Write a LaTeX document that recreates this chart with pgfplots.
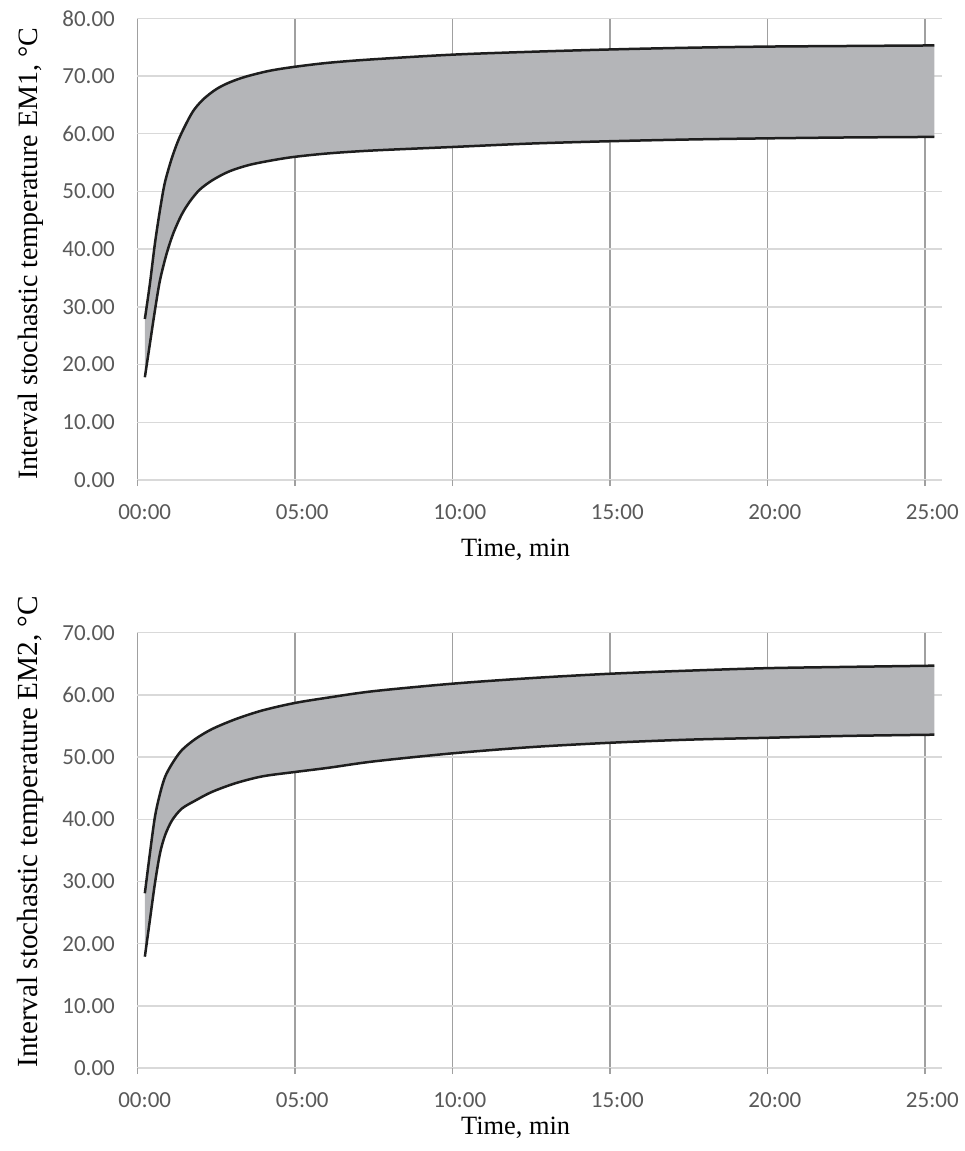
\documentclass[border=0pt]{standalone}
\usepackage{fontspec}
\setmainfont{Liberation Serif}
\newfontfamily\carlito{Carlito}
\usepackage{pgfplots}
\pgfplotsset{compat=1.18}
\usepackage{pgfplotstable}
\definecolor{bandgray}{RGB}{180,181,184}
\definecolor{vgrid}{RGB}{160,160,160}
\definecolor{hgrid}{RGB}{217,217,217}
\definecolor{ticktext}{RGB}{89,89,89}
\definecolor{curvecol}{RGB}{30,30,30}

\pgfplotstableread{
t v
0.24 27.9
0.40 34.0
0.56 41.0
0.72 46.8
0.87 51.4
1.08 55.5
1.29 58.7
1.51 61.3
1.77 63.9
2.08 65.9
2.50 67.7
2.93 68.9
3.45 69.9
4.19 70.9
5.00 71.6
6.08 72.3
7.50 72.9
10.0 73.7
12.5 74.2
15.0 74.6
17.5 74.9
20.0 75.1
22.5 75.2
25.3 75.3
}\emoneup

\pgfplotstableread{
t v
0.24 17.8
0.40 23.6
0.56 29.4
0.72 34.6
0.93 39.2
1.14 42.7
1.40 45.9
1.66 48.2
1.98 50.3
2.40 52.0
2.93 53.5
3.56 54.6
4.29 55.4
5.00 56.0
6.08 56.6
7.50 57.1
10.0 57.7
12.5 58.3
15.0 58.7
17.5 59.0
20.0 59.2
22.5 59.35
25.3 59.45
}\emonelo

\pgfplotstableread{
t v
0.24 28.1
0.40 34.5
0.56 40.4
0.72 44.1
0.88 46.8
1.10 48.9
1.41 51.1
1.84 52.9
2.37 54.5
3.12 56.1
3.97 57.5
5.00 58.7
6.10 59.6
7.50 60.6
10.0 61.8
12.5 62.7
15.0 63.4
17.5 63.9
20.0 64.3
22.5 64.5
25.3 64.7
}\emtwoup

\pgfplotstableread{
t v
0.24 17.9
0.40 23.8
0.56 29.7
0.72 34.5
0.88 37.4
1.10 39.8
1.41 41.7
1.84 43.0
2.37 44.4
3.12 45.8
3.97 46.9
5.00 47.6
6.10 48.3
7.50 49.3
10.0 50.6
12.5 51.6
15.0 52.3
17.5 52.8
20.0 53.1
22.5 53.4
25.3 53.6
}\emtwolo

% band outlines: upper curve forwards, lower curve backwards
\pgfplotstableread{
t v
0.24 27.9
0.40 34.0
0.56 41.0
0.72 46.8
0.87 51.4
1.08 55.5
1.29 58.7
1.51 61.3
1.77 63.9
2.08 65.9
2.50 67.7
2.93 68.9
3.45 69.9
4.19 70.9
5.00 71.6
6.08 72.3
7.50 72.9
10.0 73.7
12.5 74.2
15.0 74.6
17.5 74.9
20.0 75.1
22.5 75.2
25.3 75.3
25.3 59.45
22.5 59.35
20.0 59.2
17.5 59.0
15.0 58.7
12.5 58.3
10.0 57.7
7.50 57.1
6.08 56.6
5.00 56.0
4.29 55.4
3.56 54.6
2.93 53.5
2.40 52.0
1.98 50.3
1.66 48.2
1.40 45.9
1.14 42.7
0.93 39.2
0.72 34.6
0.56 29.4
0.40 23.6
0.24 17.8
}\emoneband

\pgfplotstableread{
t v
0.24 28.1
0.40 34.5
0.56 40.4
0.72 44.1
0.88 46.8
1.10 48.9
1.41 51.1
1.84 52.9
2.37 54.5
3.12 56.1
3.97 57.5
5.00 58.7
6.10 59.6
7.50 60.6
10.0 61.8
12.5 62.7
15.0 63.4
17.5 63.9
20.0 64.3
22.5 64.5
25.3 64.7
25.3 53.6
22.5 53.4
20.0 53.1
17.5 52.8
15.0 52.3
12.5 51.6
10.0 50.6
7.50 49.3
6.10 48.3
5.00 47.6
3.97 46.9
3.12 45.8
2.37 44.4
1.84 43.0
1.41 41.7
1.10 39.8
0.88 37.4
0.72 34.5
0.56 29.7
0.40 23.8
0.24 17.9
}\emtwoband

\pgfplotsset{
  emstyle/.style={
    scale only axis, width=402.5pt, xmin=0, xmax=25.55, ymin=0,
    xtick={0,5,10,15,20,25},
    xticklabels={00:00,05:00,10:00,15:00,20:00,25:00},
    axis line style={draw=none},
    xmajorgrids, ymajorgrids,
    x grid style={vgrid, line width=0.75pt},
    y grid style={hgrid, line width=0.75pt},
    tick pos=left, tick align=outside,
    xtick style={vgrid, line width=0.75pt},
    major tick length=3pt,
    ytick style={draw=none},
    ticklabel style={font=\carlito\fontsize{11.5}{14}\selectfont, text=ticktext},
    xticklabel style={xshift=3.7pt, yshift=-5.7pt},
    yticklabel style={xshift=-4.7pt},
    xlabel style={font=\fontsize{13.2}{16}\selectfont},
    anchor=south west,
  },
  curvestyle/.style={draw=curvecol, line width=1.25pt, smooth, tension=0.5, mark=none},
}

\begin{document}
\begin{tikzpicture}
\useasboundingbox (-68.65pt,-335.5pt) rectangle (413.35pt,240pt);
\begin{axis}[emstyle, at={(0,0)}, height=230.85pt, ymax=80,
  ytick={0,10,20,30,40,50,60,70,80},
  yticklabels={0.00,10.00,20.00,30.00,40.00,50.00,60.00,70.00,80.00},
  xlabel={Time, min},
  xlabel style={at={(axis description cs:0.47,0)}, yshift=-35pt, anchor=center},
  ylabel={Interval stochastic temperature EM1, \textdegree C},
  ylabel style={font=\fontsize{14}{16}\selectfont, at={(axis description cs:0,0.49)}, yshift=53.5pt, anchor=center}]
  \addplot[fill=bandgray, draw=none, mark=none] table {\emoneband};
  \addplot[curvestyle] table {\emoneup};
  \addplot[curvestyle] table {\emonelo};
\end{axis}
\begin{axis}[emstyle, at={(0,-294pt)}, height=217.65pt, ymax=70,
  ytick={0,10,20,30,40,50,60,70},
  yticklabels={0.00,10.00,20.00,30.00,40.00,50.00,60.00,70.00},
  xlabel={Time, min},
  xlabel style={at={(axis description cs:0.47,0)}, yshift=-30pt, anchor=center},
  ylabel={Interval stochastic temperature EM2, \textdegree C},
  ylabel style={font=\fontsize{14.6}{17}\selectfont, at={(axis description cs:0,0.543)}, yshift=53.5pt, anchor=center}]
  \addplot[fill=bandgray, draw=none, mark=none] table {\emtwoband};
  \addplot[curvestyle] table {\emtwoup};
  \addplot[curvestyle] table {\emtwolo};
\end{axis}
\end{tikzpicture}
\end{document}
